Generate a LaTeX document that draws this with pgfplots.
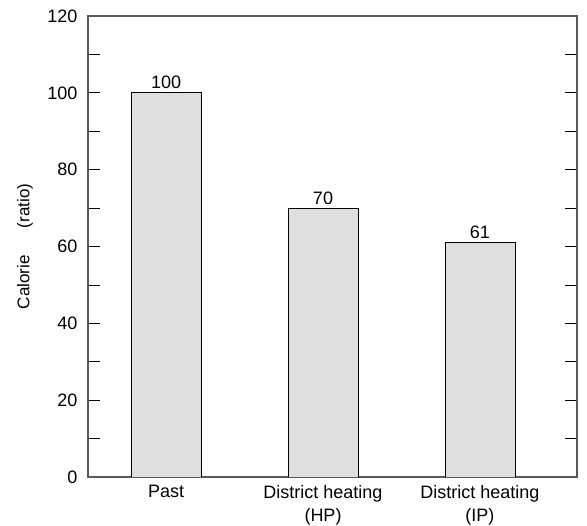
\documentclass[border=0pt]{standalone}
\usepackage{pgfplots}
\pgfplotsset{compat=1.18}
\usepackage{fontspec}
\setmainfont{Liberation Sans}
\begin{document}
\begin{tikzpicture}[x=1pt,y=1pt]
\path[use as bounding box] (0,0) rectangle (587,526);
\begin{axis}[
  at={(88pt,49pt)}, anchor=south west,
  scale only axis, width=489pt, height=461pt,
  xmin=-0.497, xmax=2.618, ymin=0, ymax=120,
  ybar, bar width=70pt,
  /pgf/number format/assume math mode=true,
  xtick={0,1,2},
  xticklabels={Past, District heating\\(HP), District heating\\(IP)},
  x tick label style={align=center, font=\fontsize{18}{23}\selectfont, yshift=-5pt},
  x tick style={draw=none},
  ytick={0,20,...,120},
  minor y tick num=1,
  ytick pos=both,
  tick align=inside,
  major tick length=12pt, minor tick length=12pt,
  y tick style={black, line width=0.8pt},
  y tick label style={font=\fontsize{18}{22}\selectfont, xshift=-7pt},
  axis line style={draw=gray!70!black, line width=1.2pt},
  every axis y label/.style={at={(axis description cs:-0.129,0.5)}, rotate=90, anchor=center, font=\fontsize{17}{20}\selectfont},
  ylabel={Calorie\hspace{1.6em}(ratio)},
  nodes near coords,
  nodes near coords style={font=\fontsize{18}{22}\selectfont, black},
]
\addplot[fill=gray!25, draw=black, line width=0.8pt] coordinates {(0,100) (1,70) (2,61)};
\end{axis}
\end{tikzpicture}
\end{document}
